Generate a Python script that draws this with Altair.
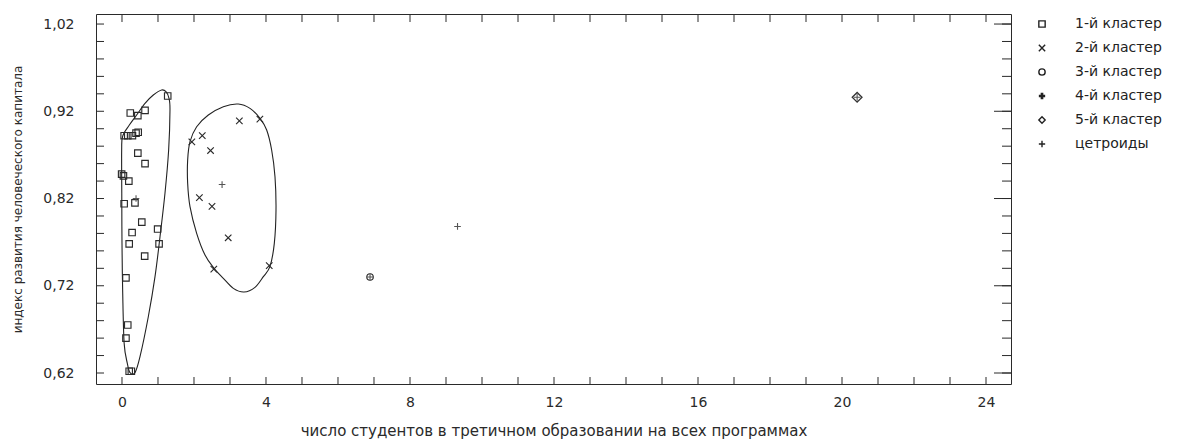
import altair as alt
import pandas as pd

CATS = ["1-й кластер", "2-й кластер", "3-й кластер", "4-й кластер", "5-й кластер", "цетроиды"]

# cluster points
c1_x = [1.27, 0.23, 0.44, 0.64, 0.06, 0.16, 0.29, 0.39, 0.45, 0.44, 0.64, -0.01, 0.04, 0.19,
        0.06, 0.36, 0.55, 0.28, 0.99, 0.20, 1.03, 0.63, 0.11, 0.16, 0.11, 0.20, 0.26]
c1_y = [0.9375, 0.918, 0.915, 0.921, 0.892, 0.892, 0.892, 0.895, 0.896, 0.872, 0.860, 0.848, 0.846, 0.840,
        0.814, 0.815, 0.793, 0.781, 0.785, 0.768, 0.768, 0.754, 0.729, 0.675, 0.660, 0.622, 0.622]
c2_x = [1.94, 2.23, 2.46, 3.26, 3.83, 2.15, 2.50, 2.95, 2.55, 4.09]
c2_y = [0.885, 0.892, 0.875, 0.909, 0.911, 0.821, 0.811, 0.775, 0.739, 0.743]
c3_x = [6.89]
c3_y = [0.730]
c4_x = []
c4_y = []
c5_x = [20.42]
c5_y = [0.936]
cen_x = [0.39, 2.78, 6.89, 9.32, 20.42]
cen_y = [0.820, 0.836, 0.730, 0.788, 0.936]

# cluster outlines
hull1_x = [0.019, -0.009, -0.006, 0.0, 0.02, 0.06, 0.148, 0.222, 0.361, 0.5, 0.731, 0.917, 1.056,
           1.194, 1.296, 1.333, 1.306, 1.222, 1.102, 0.870, 0.639, 0.407, 0.204]
hull1_y = [0.8916, 0.8756, 0.826, 0.7686, 0.7113, 0.654, 0.6311, 0.6204, 0.6204, 0.6387, 0.6845, 0.7304, 0.7762,
           0.826, 0.8756, 0.9214, 0.9348, 0.9424, 0.9444, 0.9386, 0.9291, 0.9157, 0.9042]
hull2_x = [3.231, 2.815, 2.398, 2.074, 1.889, 1.824, 1.824, 1.889, 2.074, 2.306, 2.556, 2.815, 3.093,
           3.389, 3.694, 3.926, 4.111, 4.231, 4.278, 4.25, 4.157, 4.019, 3.833, 3.556]
hull2_y = [0.9283, 0.9253, 0.9157, 0.9023, 0.8851, 0.8641, 0.8374, 0.8106, 0.7801, 0.7552, 0.7400, 0.7285, 0.7170,
           0.7128, 0.7182, 0.7304, 0.7423, 0.7686, 0.8068, 0.8450, 0.8756, 0.8985, 0.9119, 0.9233]

x_tick_values = [0, 1, 2, 3, 4, 5, 6, 7, 8, 9, 10, 11, 12, 13, 14, 15, 16, 17, 18, 19, 20, 21, 22, 23, 24]
x_label_values = [0, 4, 8, 12, 16, 20, 24]
y_tick_values = [0.62, 0.64, 0.66, 0.68, 0.70, 0.72, 0.74, 0.76, 0.78, 0.80, 0.82,
                 0.84, 0.86, 0.88, 0.90, 0.92, 0.94, 0.96, 0.98, 1.00, 1.02]
y_label_values = [0.62, 0.72, 0.82, 0.92, 1.02]

X_TITLE = "число студентов в третичном образовании на всех программах"
Y_TITLE = "индекс развития человеческого капитала"

W, H = 915, 370
X_DOMAIN = [-0.722, 24.694]
Y_DOMAIN = [0.6074, 1.0315]
FONT = "DejaVu Sans"
INK = "#2a2a2a"

BOLD_PLUS = ("M-1,0L1,0M-1,0.2L1,0.2M-1,-0.2L1,-0.2"
             "M0,-1L0,1M0.2,-1L0.2,1M-0.2,-1L-0.2,1")
SHAPES = ["square", "M-1,-1L1,1M-1,1L1,-1", "circle", BOLD_PLUS, "diamond", "M-1,0L1,0M0,-1L0,1"]

xscale = alt.Scale(domain=X_DOMAIN, nice=False, zero=False)
yscale = alt.Scale(domain=Y_DOMAIN, nice=False, zero=False)
shape_scale = alt.Scale(domain=CATS, range=SHAPES)

x_axis = alt.Axis(values=x_label_values, ticks=False, domain=False, grid=False,
                  labelPadding=11, labelFontSize=14, labelFont=FONT, labelColor=INK,
                  title=X_TITLE, titleFont=FONT, titleFontSize=15, titleFontWeight="normal",
                  titleColor=INK, titlePadding=14)
y_axis = alt.Axis(values=y_label_values, ticks=False, domain=False, grid=False,
                  labelPadding=22, labelFontSize=14, labelFont=FONT, labelColor=INK,
                  labelExpr="replace(format(datum.value, '.2f'), '.', ',')",
                  title=Y_TITLE, titleFont=FONT, titleFontSize=12, titleFontWeight="normal",
                  titleColor=INK, titleX=-72)

legend = alt.Legend(title=None, orient="right", offset=21, padding=3,
                    labelFont=FONT, labelFontSize=14, labelColor="#222222",
                    labelOffset=26, rowPadding=10, symbolSize=40,
                    symbolStrokeColor="#222222", symbolStrokeWidth=1.4,
                    symbolFillColor="transparent", values=CATS)


def X(field):
    return alt.X(f"{field}:Q", scale=xscale, axis=x_axis, title=X_TITLE)


def Y(field):
    return alt.Y(f"{field}:Q", scale=yscale, axis=y_axis, title=Y_TITLE)


def frame(cat, xs, ys):
    return pd.DataFrame({"x": xs, "y": ys, "cat": [cat] * len(xs)})


pts_main = pd.concat([frame(CATS[0], c1_x, c1_y), frame(CATS[1], c2_x, c2_y),
                      frame(CATS[2], c3_x, c3_y), frame(CATS[3], c4_x, c4_y)], ignore_index=True)
pts_big = frame(CATS[4], c5_x, c5_y)
pts_cen = frame(CATS[5], cen_x, cen_y)

hull_rows = []
for g, xs, ys in [("h1", hull1_x, hull1_y), ("h2", hull2_x, hull2_y)]:
    for i, (a, b) in enumerate(zip(xs, ys)):
        hull_rows.append({"x": a, "y": b, "g": g, "o": i})
hulls = pd.DataFrame(hull_rows)

hull_layer = alt.Chart(hulls).mark_line(interpolate="cardinal-closed", color="#222222",
                                        strokeWidth=1.1).encode(
    x=X("x"), y=Y("y"), detail="g:N", order="o:Q")

point_layer = alt.Chart(pts_main).mark_point(filled=False, strokeWidth=1.15, opacity=1,
                                             color="#2a2a2a", size=42).encode(
    x=X("x"), y=Y("y"), shape=alt.Shape("cat:N", scale=shape_scale, legend=legend))
big_layer = alt.Chart(pts_big).mark_point(filled=False, strokeWidth=1.3, opacity=1,
                                          color="#333333", size=95).encode(
    x=X("x"), y=Y("y"), shape=alt.Shape("cat:N", scale=shape_scale, legend=legend))
cen_layer = alt.Chart(pts_cen).mark_point(filled=False, strokeWidth=1.1, opacity=1,
                                          color="#555555", size=44).encode(
    x=X("x"), y=Y("y"), shape=alt.Shape("cat:N", scale=shape_scale, legend=legend))

xt = pd.DataFrame({"x": x_tick_values})
yt = pd.DataFrame({"y": y_tick_values})
ytm = pd.DataFrame({"y": y_label_values})

bottom_ticks = alt.Chart(xt).mark_rule(color=INK, strokeWidth=1).encode(
    x=X("x"), y=alt.value(H), y2=alt.value(H - 7))
top_ticks = alt.Chart(xt).mark_rule(color=INK, strokeWidth=1).encode(
    x=X("x"), y=alt.value(0), y2=alt.value(8))
left_ticks = alt.Chart(yt).mark_rule(color=INK, strokeWidth=1).encode(
    y=Y("y"), x=alt.value(0), x2=alt.value(8))
right_ticks = alt.Chart(yt).mark_rule(color=INK, strokeWidth=1).encode(
    y=Y("y"), x=alt.value(W), x2=alt.value(W - 9))
right_major = alt.Chart(ytm).mark_rule(color=INK, strokeWidth=1).encode(
    y=Y("y"), x=alt.value(W), x2=alt.value(W - 17))

chart = alt.layer(
    bottom_ticks, top_ticks, left_ticks, right_ticks, right_major, hull_layer,
    point_layer, big_layer, cen_layer
).properties(
    width=W, height=H,
    background="white",
    autosize=alt.AutoSizeParams(type="none"),
    padding={"left": 88, "top": 6, "right": 160, "bottom": 55},
).configure_view(
    stroke=INK, strokeWidth=1
)

chart.save("out.html", embed_options={"renderer": "svg", "actions": False})
